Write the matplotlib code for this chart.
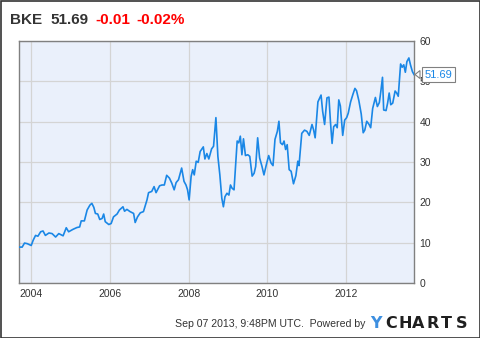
import matplotlib
matplotlib.use('Agg')
import matplotlib.pyplot as plt
from matplotlib.patches import Rectangle, Polygon
from matplotlib.transforms import IdentityTransform

plt.rcParams['font.family'] = ['Liberation Sans', 'DejaVu Sans']

# Decimal-year dates and closing prices of BKE
years = [2003.69, 2003.77, 2003.83, 2003.90, 2004.00, 2004.05, 2004.11, 2004.17, 2004.24, 2004.30,
         2004.36, 2004.45, 2004.53, 2004.62, 2004.70, 2004.81, 2004.89, 2004.95, 2005.06, 2005.16,
         2005.23, 2005.27, 2005.35, 2005.42, 2005.49, 2005.54, 2005.59, 2005.63, 2005.69, 2005.74,
         2005.80, 2005.84, 2005.88, 2005.97, 2006.03, 2006.09, 2006.18, 2006.24, 2006.33, 2006.37,
         2006.43, 2006.51, 2006.60, 2006.64, 2006.70, 2006.77, 2006.85, 2006.94, 2006.98, 2007.06,
         2007.12, 2007.17, 2007.26, 2007.32, 2007.38, 2007.44, 2007.51, 2007.57, 2007.63, 2007.68,
         2007.74, 2007.82, 2007.88, 2007.93, 2007.97, 2008.01, 2008.06, 2008.10, 2008.14, 2008.19,
         2008.24, 2008.29, 2008.37, 2008.41, 2008.46, 2008.51, 2008.58, 2008.63, 2008.69, 2008.74,
         2008.79, 2008.84, 2008.88, 2008.92, 2008.97, 2009.02, 2009.06, 2009.10, 2009.15, 2009.19,
         2009.23, 2009.27, 2009.31, 2009.35, 2009.39, 2009.44, 2009.50, 2009.55, 2009.61, 2009.66,
         2009.70, 2009.75, 2009.80, 2009.86, 2009.91, 2009.97, 2010.03, 2010.09, 2010.14, 2010.19,
         2010.25, 2010.29, 2010.33, 2010.38, 2010.42, 2010.46, 2010.50, 2010.55, 2010.60, 2010.66,
         2010.72, 2010.77, 2010.80, 2010.87, 2010.94, 2011.00, 2011.06, 2011.13, 2011.17, 2011.21,
         2011.28, 2011.36, 2011.40, 2011.45, 2011.51, 2011.56, 2011.60, 2011.64, 2011.68, 2011.73,
         2011.77, 2011.81, 2011.85, 2011.91, 2011.96, 2012.01, 2012.05, 2012.11, 2012.17, 2012.22,
         2012.26, 2012.32, 2012.38, 2012.43, 2012.47, 2012.52, 2012.58, 2012.62, 2012.67, 2012.74,
         2012.79, 2012.84, 2012.88, 2012.92, 2012.95, 2013.01, 2013.05, 2013.09, 2013.13, 2013.18,
         2013.24, 2013.28, 2013.32, 2013.38, 2013.42, 2013.46, 2013.50, 2013.54, 2013.59, 2013.63,
         2013.68, 2013.72]
prices = [8.9, 8.9, 9.9, 9.75, 9.3, 10.6, 11.8, 11.6, 12.7, 12.9,
          11.8, 12.4, 12.25, 11.4, 12.25, 11.7, 13.7, 12.7, 13.3, 13.75,
          13.9, 15.4, 15.4, 18.1, 19.3, 19.75, 18.75, 17.25, 17.1, 15.75,
          16.0, 17.1, 15.2, 14.5, 14.75, 16.4, 17.1, 18.1, 18.9, 17.8,
          18.25, 17.7, 17.25, 15.0, 16.4, 17.4, 17.7, 20.6, 22.4, 22.7,
          23.9, 22.4, 24.1, 24.3, 24.3, 26.7, 26.0, 24.75, 23.1, 24.9,
          25.6, 28.5, 25.2, 24.3, 23.1, 20.6, 26.4, 28.1, 26.8, 30.2,
          29.9, 32.6, 33.75, 30.75, 32.1, 30.75, 33.25, 33.9, 41.0, 31.4,
          26.8, 21.0, 18.9, 21.4, 22.25, 21.8, 24.3, 23.5, 23.1, 29.3,
          35.2, 34.75, 36.4, 31.8, 35.75, 31.6, 31.8, 31.4, 26.5, 27.2,
          28.9, 36.0, 31.0, 28.9, 26.8, 29.3, 31.6, 29.75, 29.1, 35.6,
          37.6, 40.1, 34.75, 34.3, 35.2, 33.1, 34.3, 28.1, 27.7, 24.6,
          26.6, 30.2, 29.1, 37.1, 37.9, 37.6, 36.6, 39.3, 38.0, 36.0,
          44.9, 46.6, 42.6, 39.3, 45.9, 46.1, 39.75, 34.6, 38.75, 39.3,
          38.5, 45.4, 43.9, 36.6, 40.4, 41.0, 42.1, 44.9, 46.8, 48.25,
          47.7, 45.2, 41.9, 37.25, 37.9, 40.1, 39.3, 38.5, 43.25, 46.0,
          43.75, 44.75, 47.7, 51.0, 42.9, 42.75, 44.6, 47.1, 44.2, 44.6,
          47.6, 47.1, 46.3, 54.3, 53.5, 54.1, 52.25, 54.9, 55.8, 54.1,
          52.4, 51.69]

x_ticks = [2004, 2006, 2008, 2010, 2012]
x_labels = ['2004', '2006', '2008', '2010', '2012']
y_ticks = [0, 10, 20, 30, 40, 50, 60]
y_labels = ['0', '10', '20', '30', '40', '50', '60']

ticker = 'BKE'
last_price = '51.69'
change = '-0.01'
change_pct = '-0.02%'
footer = 'Sep 07 2013, 9:48PM UTC.  Powered by'
logo_first = 'Y'
logo_rest = ['C', 'H', 'A', 'R', 'T', 'S']

W, H = 480, 338
fig = plt.figure(figsize=(W / 100, H / 100), dpi=100)
fig.patch.set_facecolor('white')

def fx(px):
    return px / W

def fy(py):
    return 1 - py / H

ax = fig.add_axes([fx(19), fy(283), fx(414) - fx(19), fy(41) - fy(283)])
ax.set_facecolor('#EAF0FB')
line_color = '#1a87e6'
ax.plot(years, prices, color=line_color, lw=1.2, solid_joinstyle='round', zorder=3)

ax.set_xlim(years[0], years[-1])
ax.set_ylim(0, 60)
ax.set_xticks(x_ticks)
ax.set_xticklabels(x_labels)
ax.set_yticks(y_ticks)
ax.set_yticklabels(y_labels)
ax.yaxis.tick_right()
ax.tick_params(axis='both', length=0, labelsize=7.5, colors='#333333')
ax.tick_params(axis='x', pad=4.5)
ax.tick_params(axis='y', pad=4)
ax.grid(True, color='#D4D4D4', lw=0.9)
ax.set_axisbelow(True)
for s in ax.spines.values():
    s.set_color('#808080')
    s.set_linewidth(1.0)

# Callout with the last price (covers the "50" label, as in the reference)
fig.canvas.draw()
px, py = ax.transData.transform((years[-1], prices[-1]))
tri = Polygon([(px + 1, py), (px + 6, py + 4), (px + 6, py - 4)], closed=True,
              facecolor='white', edgecolor='#808080', lw=0.8,
              transform=IdentityTransform(), zorder=5)
fig.patches.append(tri)
ax.annotate(last_price, xy=(years[-1], prices[-1]), xytext=(7.5, 0), textcoords='offset points',
            va='center', ha='left', fontsize=8, color=line_color, annotation_clip=False,
            bbox=dict(boxstyle='square,pad=0.25', fc='white', ec='#808080', lw=0.8), zorder=6)

# Title
title_y = fy(20)
fig.text(fx(10), title_y, ticker, fontsize=11, fontweight='bold', color='#333333', va='center')
fig.text(fx(50), title_y, last_price, fontsize=11, fontweight='bold', color='#333333', va='center')
fig.text(fx(95), title_y, change, fontsize=11, fontweight='bold', color='#FF0000', va='center')
fig.text(fx(136), title_y, change_pct, fontsize=11, fontweight='bold', color='#FF0000', va='center')

# Footer
fig.text(fx(365), fy(324), footer, fontsize=7.6, color='#333333', ha='right', va='center')
logo_font = ['DejaVu Sans']
fig.text(fx(370), fy(323.5), logo_first, fontsize=11.5, fontweight='bold', color='#3d8fe0',
         ha='left', va='center', family=logo_font)
logo_x = [385, 398, 412, 426, 441, 456]
for lx, ch in zip(logo_x, logo_rest):
    fig.text(fx(lx), fy(323.5), ch, fontsize=11.5, fontweight='bold', color='#1f1f1f',
             ha='left', va='center', family=logo_font)

# Figure border
fig.patches.append(Rectangle((0.5, 0.5), W - 1, H - 1, fill=False, edgecolor='#333333', lw=1.2,
                             transform=IdentityTransform()))

fig.savefig('out.png', dpi=100)
